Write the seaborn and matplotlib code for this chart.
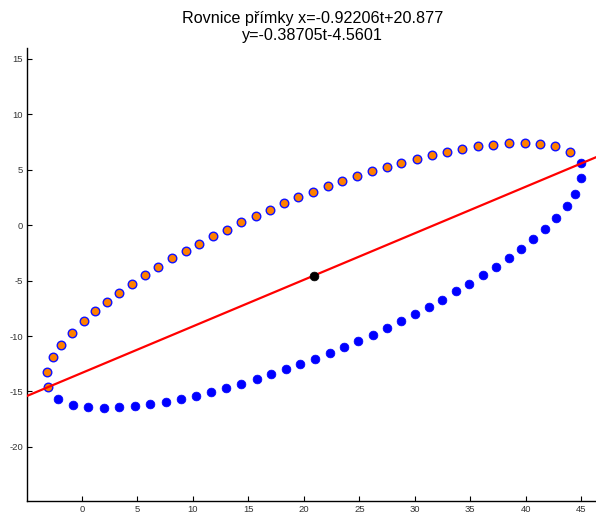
import numpy as np
import pandas as pd
import matplotlib
matplotlib.use("Agg")
import matplotlib.pyplot as plt
import seaborn as sns

# Upper arc of measured points (orange fill, blue rim)
upper_x = [-3.07, -3.14, -2.60, -1.87, -0.91, 0.14, 1.16, 2.24, 3.38, 4.55,
           5.72, 6.89, 8.13, 9.36, 10.59, 11.80, 13.11, 14.37, 15.64, 16.93,
           18.25, 19.51, 20.86, 22.13, 23.48, 24.80, 26.13, 27.48, 28.77, 30.21,
           31.59, 32.91, 34.29, 35.68, 37.09, 38.50, 39.92, 41.32, 42.67, 43.97]
upper_y = [-14.60, -13.25, -11.90, -10.79, -9.71, -8.68, -7.78, -6.94, -6.10, -5.29,
           -4.53, -3.76, -3.00, -2.34, -1.69, -0.99, -0.42, 0.24, 0.84, 1.41,
           1.96, 2.50, 3.00, 3.51, 3.97, 4.42, 4.84, 5.25, 5.65, 6.01,
           6.34, 6.64, 6.91, 7.12, 7.27, 7.39, 7.45, 7.36, 7.12, 6.58]

# Lower arc of measured points (solid blue)
lower_x = [44.94, 44.99, 44.48, 43.73, 42.76, 41.72, 40.69, 39.58, 38.47, 37.30,
           36.13, 34.92, 33.72, 32.49, 31.26, 30.03, 28.74, 27.46, 26.22, 24.92,
           23.63, 22.34, 21.02, 19.69, 18.40, 17.05, 15.73, 14.37, 13.02, 11.67,
           10.26, 8.94, 7.56, 6.17, 4.77, 3.35, 1.97, 0.56, -0.82, -2.12]
lower_y = [5.59, 4.21, 2.82, 1.74, 0.66, -0.36, -1.26, -2.14, -2.97, -3.79,
           -4.54, -5.29, -5.97, -6.73, -7.36, -8.02, -8.65, -9.28, -9.89, -10.45,
           -11.00, -11.54, -12.08, -12.55, -13.00, -13.46, -13.88, -14.30, -14.66, -15.05,
           -15.38, -15.68, -15.98, -16.16, -16.34, -16.43, -16.52, -16.40, -16.20, -15.65]

# Fitted line in parametric form: x = a*t + b, y = c*t + d
line_a, line_b = -0.92206, 20.877
line_c, line_d = -0.38705, -4.5601
t_span = [-30.0, 30.0]

x_ticks = [0, 5, 10, 15, 20, 25, 30, 35, 40, 45]
y_ticks = [-20, -15, -10, -5, 0, 5, 10, 15]

sns.set_style("white")
plt.rcParams["font.family"] = ["Liberation Sans", "DejaVu Sans"]
plt.rcParams["axes.unicode_minus"] = False

fig = plt.figure(figsize=(5.96, 5.16), dpi=100)
ax = fig.add_axes([0.0458, 0.0297, 0.9592, 0.8767])

upper = pd.DataFrame({"x": upper_x, "y": upper_y})
lower = pd.DataFrame({"x": lower_x, "y": lower_y})
t = np.array(t_span)
fit = pd.DataFrame({"x": line_a * t + line_b, "y": line_c * t + line_d})
center = pd.DataFrame({"x": [line_b], "y": [line_d]})

sns.scatterplot(data=upper, x="x", y="y", ax=ax, s=38, color="#ff8000",
                edgecolor="#1010ff", linewidth=1.0, zorder=3)
sns.scatterplot(data=lower, x="x", y="y", ax=ax, s=40, color="#0000ff",
                edgecolor="#0000ff", linewidth=0.5, zorder=3)
sns.lineplot(data=fit, x="x", y="y", ax=ax, color="#ff0000", linewidth=1.6,
             sort=False, zorder=4)
sns.scatterplot(data=center, x="x", y="y", ax=ax, s=40, color="black",
                edgecolor="black", zorder=5)

ax.set_xlim(-4.93, 46.6)
ax.set_ylim(-24.85, 15.95)
ax.set_xticks(x_ticks)
ax.set_yticks(y_ticks)
ax.set_xlabel("")
ax.set_ylabel("")

for side in ("top", "right"):
    ax.spines[side].set_visible(False)
for side in ("left", "bottom"):
    ax.spines[side].set_color("black")
    ax.spines[side].set_linewidth(1.0)

ax.tick_params(axis="both", direction="in", length=3.5, width=0.8,
               colors="black", labelcolor="#333333", labelsize=6.8, pad=3,
               bottom=True, left=True)

fig.text(0.525, 0.978, "Rovnice přímky x=-0.92206t+20.877\ny=-0.38705t-4.5601",
         ha="center", va="top", fontsize=11.6, linespacing=1.1, color="black")

fig.savefig("out.png", dpi=100)
